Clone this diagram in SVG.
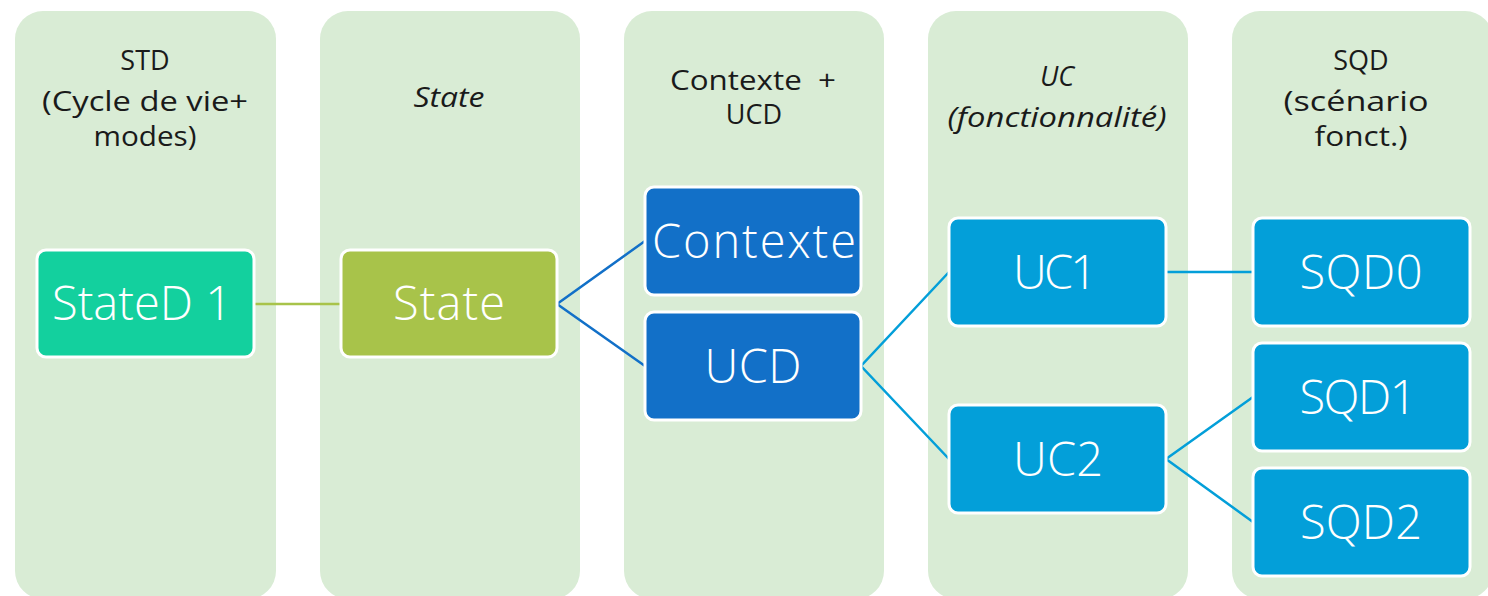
<svg xmlns="http://www.w3.org/2000/svg" width="1488" height="596" viewBox="0 0 1488 596">
<style>
.panel{fill:#D9ECD5}
.hdr{font-family:"Open Sans","Liberation Sans",sans-serif;font-size:27px;fill:#1a1a1a;text-anchor:middle}
.it{font-style:italic}
.node{stroke:#ffffff;stroke-width:3}
.lbl{font-family:"Open Sans","Liberation Sans",sans-serif;font-weight:300;font-size:47px;fill:#ffffff;text-anchor:middle}
.c{fill:none;stroke-width:2.5}
</style>
<rect width="1488" height="596" fill="#ffffff"/>
<g id="panels">
<g id="col1"><rect class="panel" x="15" y="11" width="261" height="588" rx="28"/>
<text class="hdr" x="145" y="70">STD</text><text class="hdr" x="145" y="111" textLength="206" lengthAdjust="spacingAndGlyphs">(Cycle de vie+</text><text class="hdr" x="145" y="146" textLength="103" lengthAdjust="spacingAndGlyphs">modes)</text></g>
<g id="col2"><rect class="panel" x="320" y="11" width="260" height="588" rx="28"/>
<text class="hdr it" x="449" y="107" textLength="71" lengthAdjust="spacingAndGlyphs">State</text></g>
<g id="col3"><rect class="panel" x="624" y="11" width="260" height="588" rx="28"/>
<text class="hdr" x="753" y="90" textLength="166" lengthAdjust="spacingAndGlyphs" xml:space="preserve">Contexte  +</text><text class="hdr" x="754" y="124">UCD</text></g>
<g id="col4"><rect class="panel" x="928" y="11" width="260" height="588" rx="28"/>
<text class="hdr it" x="1057" y="86">UC</text><text class="hdr it" x="1057" y="127" textLength="219" lengthAdjust="spacingAndGlyphs">(fonctionnalité)</text></g>
<g id="col5"><rect class="panel" x="1232" y="11" width="261" height="588" rx="28"/>
<text class="hdr" x="1361" y="70">SQD</text><text class="hdr" x="1356" y="111" textLength="145" lengthAdjust="spacingAndGlyphs">(scénario</text><text class="hdr" x="1361" y="146" textLength="93" lengthAdjust="spacingAndGlyphs">fonct.)</text></g>
</g>
<g id="connectors">
<line class="c" stroke="#A8C34A" x1="254" y1="304" x2="341" y2="304"/>
<path class="c" stroke="#1270C8" d="M645,241 L557,304 L645,366"/>
<path class="c" stroke="#039FD9" d="M949,272 L861,366 L949,459"/>
<line class="c" stroke="#039FD9" x1="1166" y1="272" x2="1253" y2="272"/>
<path class="c" stroke="#039FD9" d="M1253,397 L1166,459 L1253,522"/>
</g>
<g id="n-stated1"><rect class="node" x="37" y="250" width="217" height="107" rx="9" fill="#13D09E"/><text class="lbl" x="142" y="320" textLength="180">StateD 1</text></g>
<g id="n-state"><rect class="node" x="341" y="250" width="216" height="107" rx="9" fill="#A8C34A"/><text class="lbl" x="449" y="320" textLength="112">State</text></g>
<g id="n-contexte"><rect class="node" x="645" y="187" width="216" height="108" rx="9" fill="#1270C8"/><text class="lbl" x="754" y="258" textLength="204">Contexte</text></g>
<g id="n-ucd"><rect class="node" x="645" y="312" width="216" height="108" rx="9" fill="#1270C8"/><text class="lbl" x="753" y="383" textLength="97">UCD</text></g>
<g id="n-uc1"><rect class="node" x="949" y="218" width="217" height="108" rx="9" fill="#039FD9"/><text class="lbl" x="1055" y="289" textLength="84">UC1</text></g>
<g id="n-uc2"><rect class="node" x="949" y="405" width="217" height="108" rx="9" fill="#039FD9"/><text class="lbl" x="1058" y="476" textLength="90">UC2</text></g>
<g id="n-sqd0"><rect class="node" x="1253" y="218" width="217" height="108" rx="9" fill="#039FD9"/><text class="lbl" x="1361" y="289" textLength="123">SQD0</text></g>
<g id="n-sqd1"><rect class="node" x="1253" y="343" width="217" height="108" rx="9" fill="#039FD9"/><text class="lbl" x="1358" y="414" textLength="117">SQD1</text></g>
<g id="n-sqd2"><rect class="node" x="1253" y="468" width="217" height="108" rx="9" fill="#039FD9"/><text class="lbl" x="1361" y="539" textLength="122">SQD2</text></g>
</svg>
